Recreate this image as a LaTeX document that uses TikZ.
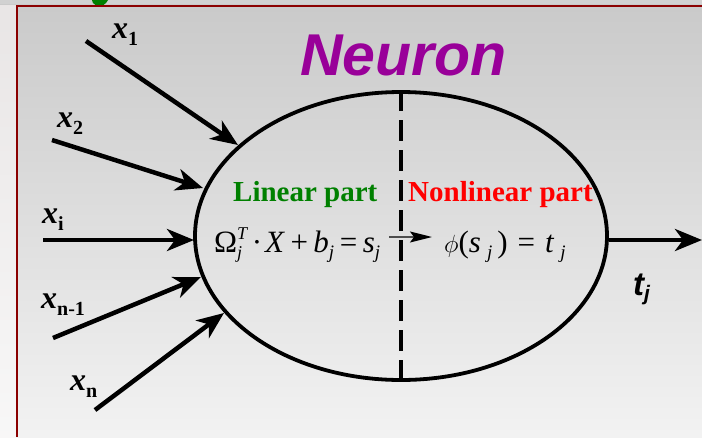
\documentclass[tikz,border=0pt]{standalone}
\usepackage{fontspec}
\setmainfont{Liberation Serif}
\newfontfamily\sansf{Liberation Sans}
\usetikzlibrary{shapes.geometric,arrows.meta}
\definecolor{framered}{HTML}{8B0000}
\definecolor{neurpurple}{HTML}{990099}
\definecolor{lingreen}{HTML}{008000}
\newcommand\lsub[1]{\raisebox{-7pt}{\fontsize{20}{20}\selectfont\upshape #1}}
\newcommand\msub[1]{\raisebox{-6pt}{\fontsize{19}{19}\selectfont\itshape #1}}
\newcommand\smallit[1]{\hbox{\fontsize{18}{18}\selectfont\itshape #1}}
\newcommand\opsp{\hspace{5.5pt}}
\begin{document}
\begin{tikzpicture}[x=1pt,y=-1pt,
  arr/.style={line width=4.5pt,-{Stealth[length=27pt,width=22pt,inset=8pt]}},
  xlab/.style={anchor=base west,inner sep=0,font=\fontsize{32}{32}\selectfont\bfseries\itshape},
  partlab/.style={anchor=base west,inner sep=0,font=\fontsize{29}{29}\selectfont\bfseries},
  formula/.style={anchor=base west,inner sep=0,font=\fontsize{31}{31}\selectfont}]
\useasboundingbox (0,0) rectangle (702,437);
% background
\shade[top color=black!21,bottom color=black!5] (0,0) rectangle (702,437);
\shade[top color=red!12!black!10,bottom color=red!5!black!3] (0,5) rectangle (17,437);
\fill[black!18] (0,0) rectangle (702,4);
\fill[lingreen] (92,0) -- (108,0) -- (106,3) .. controls (103,7) and (96,7) .. (93,3) -- cycle;
\draw[framered,line width=2pt] (17,437) -- (17,5.5) -- (702,5.5);
% neuron body
\node[draw,ellipse,line width=3.8pt,minimum width=412pt,minimum height=288pt,inner sep=0] (n) at (401,236) {};
\draw[line width=3.8pt,dash pattern=on 21pt off 9pt] (n.north) -- (n.south);
% title
\node[anchor=base west,inner sep=0,text=neurpurple,font=\sansf\fontsize{59}{59}\selectfont\bfseries\itshape] (title) at (300,75) {Neuron};
% input coordinates
\coordinate (s1) at (86,41);   \coordinate (e1) at (238,145);
\coordinate (s2) at (52,140);  \coordinate (e2) at (203,188);
\coordinate (si) at (43,240);  \coordinate (ei) at (194,240);
\coordinate (s3) at (53,338);  \coordinate (e3) at (201,277);
\coordinate (sn) at (95,410);  \coordinate (en) at (224,313);
\coordinate (o) at (702,240);
\draw[arr] (s1) -- (e1);
\draw[arr] (s2) -- (e2);
\draw[arr] (si) -- (ei);
\draw[arr] (s3) -- (e3);
\draw[arr] (sn) -- (en);
\draw[arr] (n.east |- o) -- (o);
% input labels
\node[xlab] (l1) at (112,38) {x\lsub{1}};
\node[xlab] (l2) at (57,127) {x\lsub{2}};
\node[xlab] (li) at (42,223) {x\lsub{\bfseries i}};
\node[xlab] (l3) at (41,308) {x\lsub{\bfseries n-1}};
\node[xlab] (ln) at (70,390) {x\lsub{\bfseries n}};
% output label
\node[anchor=base west,inner sep=0,font=\sansf\fontsize{33}{33}\selectfont\bfseries\itshape] (tj) at (633,295) {t\raisebox{-5pt}{\fontsize{21}{21}\selectfont j}};
% part labels
\node[partlab,text=lingreen] (lin) at (233,201) {Linear part};
\node[partlab,text=red] (nonlin) at (408,201) {Nonlinear part};
% formulas
\node[formula] (f1) at (214,252) {$\hbox{Ω}^{\smallit{T}}_{\smallit{j}}$\hspace{4pt}·\hspace{3pt}\textit{X}\opsp+\opsp\textit{b}\msub{j}\opsp=\opsp\textit{s}\msub{j}};
\node[formula] (f2) at (444,252) {$\phi$(\textit{s}\hspace{6pt}\msub{j}\hspace{5pt})\hspace{10pt}=\hspace{10pt}\textit{t}\hspace{6pt}\msub{j}};
\coordinate (a1) at (389,237);
\coordinate (a2) at (432,237);
\draw[line width=1.6pt,black!70,-{Stealth[length=22pt,width=11pt,inset=4pt,fill=black,color=black]}] (a1) -- (a2);
\end{tikzpicture}
\end{document}
